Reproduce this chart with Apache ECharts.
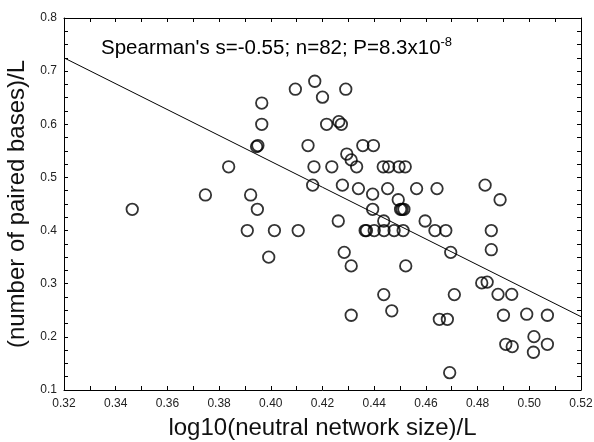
<!DOCTYPE html>
<html>
<head>
<meta charset="utf-8">
<script src="https://cdn.jsdelivr.net/npm/echarts@6/dist/echarts.min.js"></script>
<style>html,body{margin:0;padding:0;background:#fff}#c{width:594px;height:442px}</style>
</head>
<body>
<div id="c"></div>
<script>
var xVals = [0.3464,0.3747,0.3837,0.3909,0.3922,0.3945,0.3950,0.3948,0.3965,0.3965,0.3992,0.4014,0.4095,0.4106,0.4144,0.4162,0.4167,0.4170,0.4200,0.4216,0.4236,0.4261,0.4263,0.4273,0.4277,0.4284,0.4290,0.4294,0.4311,0.4311,0.4311,0.4332,0.4339,0.4356,0.4365,0.4370,0.4394,0.4394,0.4397,0.4400,0.4437,0.4437,0.4435,0.4438,0.4452,0.4456,0.4468,0.4477,0.4493,0.4496,0.4502,0.4508,0.4515,0.4512,0.4520,0.4522,0.4564,0.4597,0.4635,0.4643,0.4652,0.4677,0.4683,0.4692,0.4696,0.4710,0.4816,0.4829,0.4837,0.4853,0.4853,0.4879,0.4887,0.4900,0.4909,0.4932,0.4934,0.4990,0.5016,0.5018,0.5070,0.5070];
var yVals = [0.440,0.467,0.520,0.400,0.467,0.558,0.560,0.440,0.640,0.600,0.350,0.400,0.666,0.400,0.560,0.4855,0.520,0.681,0.651,0.600,0.520,0.418,0.605,0.600,0.4855,0.359,0.666,0.544,0.533,0.3335,0.2407,0.520,0.479,0.560,0.400,0.400,0.4685,0.440,0.560,0.400,0.2795,0.418,0.520,0.400,0.479,0.520,0.249,0.400,0.458,0.520,0.440,0.440,0.440,0.400,0.520,0.3335,0.479,0.418,0.400,0.479,0.233,0.400,0.233,0.1326,0.359,0.2795,0.3015,0.4855,0.303,0.400,0.364,0.280,0.458,0.2407,0.186,0.280,0.1816,0.2426,0.171,0.2004,0.2407,0.186];
var fitX = [0.32, 0.52];
var fitY = [0.725, 0.238];
var xTicks = ['0.32','0.34','0.36','0.38','0.40','0.42','0.44','0.46','0.48','0.50','0.52'];
var yTicks = ['0.1','0.2','0.3','0.4','0.5','0.6','0.7','0.8'];

var pts = xVals.map(function(x,i){return [x,yVals[i]];});
var fit = fitX.map(function(x,i){return [x,fitY[i]];});
var font = 'Liberation Sans, Arial, sans-serif';
var tickStyle = {show:true,inside:true,length:4,lineStyle:{color:'#000'}};
var chart = echarts.init(document.getElementById('c'));
function xAx(pos, main){
  return {type:'value',position:pos,min:0.32,max:0.52,interval:0.02,
    name:main?'log10(neutral network size)/L':'',nameLocation:'middle',nameGap:26,
    nameTextStyle:{fontFamily:font,fontSize:24,color:'#111'},
    axisLine:{show:true,onZero:false,lineStyle:{color:'#000',width:1}},
    axisTick:tickStyle,
    minorTick:{show:true,splitNumber:2,length:4,lineStyle:{color:'#000'}},
    splitLine:{show:false},
    axisLabel:{show:main,fontFamily:font,fontSize:12,color:'#222',margin:8,
      formatter:function(v){var i=Math.round((v-0.32)/0.02);return xTicks[i]||'';}}};
}
function yAx(pos, main){
  return {type:'value',position:pos,min:0.1,max:0.8,interval:0.1,
    name:main?'(number of paired bases)/L':'',nameLocation:'middle',nameGap:24,
    nameTextStyle:{fontFamily:font,fontSize:24,color:'#111'},
    axisLine:{show:true,onZero:false,lineStyle:{color:'#000',width:1}},
    axisTick:tickStyle,
    minorTick:{show:true,splitNumber:4,length:4,lineStyle:{color:'#000'}},
    splitLine:{show:false},
    axisLabel:{show:main,fontFamily:font,fontSize:12,color:'#222',margin:7,
      formatter:function(v){var i=Math.round((v-0.1)/0.1);return yTicks[i]||'';}}};
}
chart.setOption({
  animation:false,
  backgroundColor:'#fff',
  grid:{left:64,right:13,top:18,bottom:52,containLabel:false,outerBoundsMode:'none'},
  xAxis:[xAx('bottom',true),xAx('top',false)],
  yAxis:[yAx('left',true),yAx('right',false)],
  series:[
    {type:'line',data:fit,showSymbol:false,symbol:'none',lineStyle:{color:'#000',width:1},z:1},
    {type:'scatter',data:pts,symbol:'circle',symbolSize:11.5,
     itemStyle:{color:'rgba(0,0,0,0)',borderColor:'#000',borderWidth:1.8},z:2}
  ],
  graphic:[
    {type:'text',left:101,top:36,style:{
      text:"{a|Spearman's s=-0.55; n=82; P=8.3x10}{s|-8}",
      rich:{a:{fontFamily:font,fontSize:20.5,fill:'#000',verticalAlign:'bottom'},
            s:{fontFamily:font,fontSize:13,fill:'#000',verticalAlign:'top',padding:[0,0,10,0]}}}}
  ]
});
</script>
</body>
</html>
